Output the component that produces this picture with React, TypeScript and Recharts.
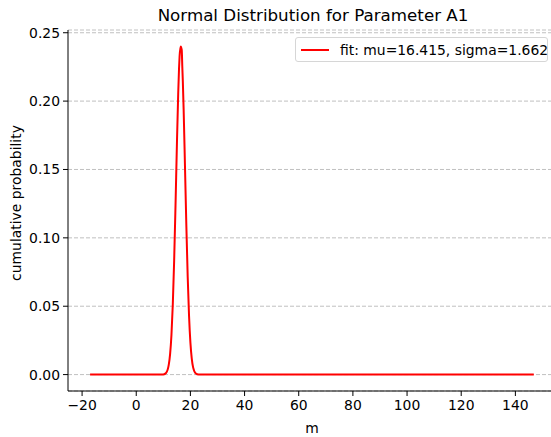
import React from 'react';
import { LineChart, Line, XAxis, YAxis, CartesianGrid, Legend, Label } from 'recharts';

// values
const xValues = [-17.05, 0, 9, 10, 11, 12, 12.5, 13, 13.5, 14, 14.5, 15, 15.5, 15.8, 16, 16.4, 16.8, 17, 17.2, 17.5, 18, 18.5, 19, 19.5, 20, 20.5, 21, 22, 23, 30, 146.8];
const yValues = [0, 0, 0, 0.00014, 0.0012, 0.0071, 0.015, 0.029, 0.0515, 0.0835, 0.1237, 0.167, 0.206, 0.224, 0.2326, 0.24, 0.2375, 0.2255, 0.2146, 0.194, 0.152, 0.109, 0.0716, 0.0429, 0.0234, 0.0117, 0.0053, 0.00085, 0.0001, 0, 0];
const xTicks = [-20, 0, 20, 40, 60, 80, 100, 120, 140];
const yTicks = [0, 0.05, 0.1, 0.15, 0.2, 0.25];
const legendLabel = 'fit: mu=16.415, sigma=1.662';

const data = xValues.map((x, i) => ({ x, y: yValues[i] }));

const font = 'DejaVu Sans, sans-serif';

function LegendBox() {
  return (
    <div style={{
      boxSizing: 'border-box', width: 253, height: 25, border: '1px solid #d6d6d6', borderRadius: 3, whiteSpace: 'nowrap',
      background: 'rgba(255,255,255,0.8)', display: 'flex', alignItems: 'center', fontFamily: font, fontSize: 13.9, color: '#000',
    }}>
      <span style={{ display: 'inline-block', width: 28, height: 2, background: '#ff0000', marginLeft: 5, marginRight: 11, flexShrink: 0 }} />
      <span>{legendLabel}</span>
    </div>
  );
}

export default function App() {
  return (
    <div style={{ position: 'absolute', left: 0, top: 0, width: 551, height: 437, overflow: 'hidden', background: '#fff' }}>
      <div style={{ position: 'absolute', left: 0, width: 626, top: 5, textAlign: 'center', fontFamily: font, fontSize: 16.7, color: '#000' }}>
        Normal Distribution for Parameter A1
      </div>
      <LineChart width={570} height={437} data={data} margin={{ top: 30, right: 14, bottom: 0, left: 0 }}>
        <CartesianGrid horizontal vertical={false} stroke="#b0b0b0" strokeDasharray="4 2" strokeWidth={0.8} />
        <XAxis
          dataKey="x"
          type="number"
          domain={[-25.2, 155]}
          ticks={xTicks}
          allowDataOverflow
          height={46}
          tickSize={5}
          tickMargin={4}
          stroke="#000"
          tickFormatter={(v: number) => String(v).replace('-', '\u2212')}
          tick={{ fill: '#000', fontSize: 13.9, fontFamily: font }}
          tickLine={{ stroke: '#000' }}
        >
          <Label content={() => (
            <text x={312} y={433} textAnchor="middle" fill="#000" fontSize={13.9} fontFamily={font}>m</text>
          )} />
        </XAxis>
        <XAxis xAxisId="top" orientation="top" type="number" domain={[-25.2, 155]} height={0} tick={false} tickLine={false} stroke="#000" />
        <YAxis
          type="number"
          domain={[-0.012, 0.252]}
          ticks={yTicks}
          allowDataOverflow
          width={68}
          tickSize={5}
          tickMargin={3}
          stroke="#000"
          tickFormatter={(v: number) => v.toFixed(2)}
          tick={{ fill: '#000', fontSize: 13.9, fontFamily: font }}
          tickLine={{ stroke: '#000' }}
        >
          <Label content={() => (
            <text x={21} y={203} transform="rotate(-90 21 203)" textAnchor="middle" fill="#000" fontSize={13.9} fontFamily={font}>cumulative probability</text>
          )} />
        </YAxis>
        <Legend
          layout="horizontal"
          verticalAlign="middle"
          align="center"
          content={() => <LegendBox />}
          wrapperStyle={{ position: 'absolute', left: 295, top: 37, width: 253 }}
        />
        <Line type="monotone" dataKey="y" stroke="#ff0000" strokeWidth={2} dot={false} isAnimationActive={false} />
      </LineChart>
    </div>
  );
}
